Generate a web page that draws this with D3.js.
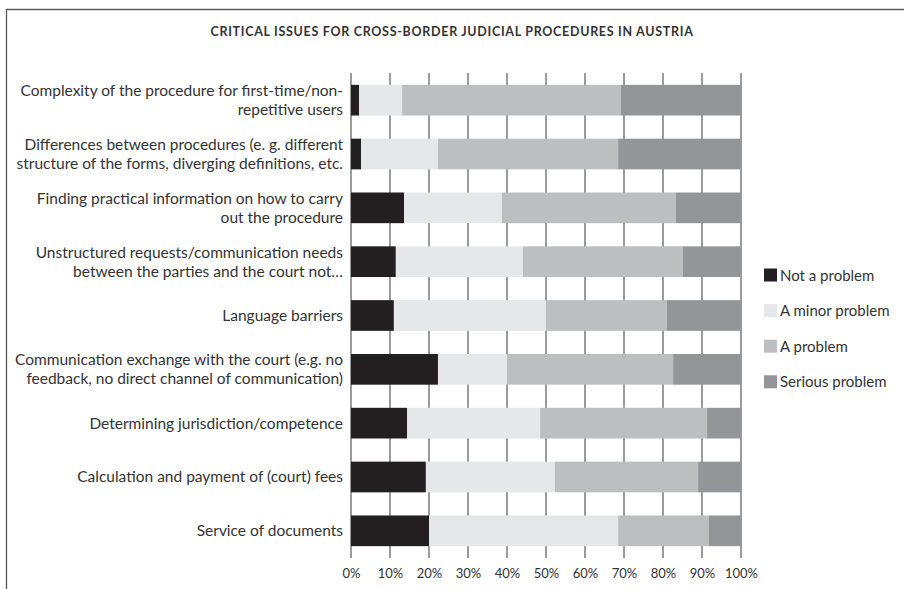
<!DOCTYPE html>
<html>
<head>
<meta charset="utf-8">
<script src="https://cdn.jsdelivr.net/npm/d3@7"></script>
<style>
  body { margin: 0; background: #fff; }
  svg { display: block; font-family: Lato, "Open Sans", sans-serif; }
</style>
</head>
<body>
<svg id="chart" width="904" height="589"></svg>
<script>
// categories (each label split into its printed lines)
const categories = [
  ["Complexity of the procedure for first-time/non-", "repetitive users"],
  ["Differences between procedures (e. g. different", "structure of the forms, diverging definitions, etc."],
  ["Finding practical information on how to carry", "out the procedure"],
  ["Unstructured requests/communication needs", "between the parties and the court not\u2026"],
  ["Language barriers"],
  ["Communication exchange with the court (e.g. no", "feedback, no direct channel of communication)"],
  ["Determining jurisdiction/competence"],
  ["Calculation and payment of (court) fees"],
  ["Service of documents"]
];
const seriesNames = ["Not a problem", "A minor problem", "A problem", "Serious problem"];
const notProblem = [2.1, 2.6, 13.6, 11.5, 11.0, 22.3, 14.4, 19.2, 20.0];
const minorProblem = [11.0, 19.7, 25.1, 32.6, 39.0, 17.7, 34.1, 33.1, 48.5];
const aProblem = [56.1, 46.2, 44.6, 41.0, 31.0, 42.6, 42.8, 36.7, 23.3];
const seriousProblem = [30.8, 31.5, 16.7, 14.9, 19.0, 17.4, 8.7, 11.0, 8.2];
const xTicks = [0, 10, 20, 30, 40, 50, 60, 70, 80, 90, 100];
const colors = ["#231f20", "#e6e7e8", "#bcbec0", "#939598"];

const title = "CRITICAL ISSUES FOR CROSS-BORDER JUDICIAL PROCEDURES IN AUSTRIA";

const svg = d3.select("#chart");

// frame
svg.append("path")
  .attr("d", "M6.5,589 V9.5 H904")
  .attr("fill", "none")
  .attr("stroke", "#58595b")
  .attr("stroke-width", 1.3);

svg.append("text")
  .attr("x", 452)
  .attr("y", 36)
  .attr("text-anchor", "middle")
  .style("font-size", "12.5px")
  .style("font-weight", 700)
  .style("letter-spacing", "0.7px")
  .style("fill", "#333")
  .text(title);

const rows = categories.map((c, i) => ({
  idx: i,
  "Not a problem": notProblem[i],
  "A minor problem": minorProblem[i],
  "A problem": aProblem[i],
  "Serious problem": seriousProblem[i]
}));

const x = d3.scaleLinear().domain([0, 100]).range([351, 741]);
const y = d3.scaleBand()
  .domain(d3.range(categories.length))
  .range([73, 558])
  .paddingInner(0.43)
  .paddingOuter(0.22);

// grid lines behind bars
svg.append("g")
  .selectAll("line")
  .data(xTicks)
  .enter().append("line")
  .attr("x1", d => x(d)).attr("x2", d => x(d))
  .attr("y1", 73).attr("y2", 558)
  .attr("stroke", "#808285")
  .attr("stroke-width", 1.6);

const stack = d3.stack().keys(seriesNames)(rows);

const layer = svg.append("g")
  .selectAll("g")
  .data(stack)
  .enter().append("g")
  .attr("fill", (d, i) => colors[i]);

layer.selectAll("rect")
  .data(d => d)
  .enter().append("rect")
  .attr("x", d => x(d[0]))
  .attr("width", d => x(d[1]) - x(d[0]))
  .attr("y", d => y(d.data.idx))
  .attr("height", y.bandwidth());

// x axis labels
const xAxis = d3.axisBottom(x)
  .tickValues(xTicks)
  .tickFormat(d => d + "%")
  .tickSize(0)
  .tickPadding(0);

const ax = svg.append("g")
  .attr("transform", "translate(0,569)")
  .call(xAxis);
ax.select(".domain").remove();
ax.selectAll("text")
  .style("font-family", "Lato, sans-serif")
  .style("font-size", "13px")
  .style("fill", "#333");

// category labels
const lab = svg.append("g")
  .selectAll("text")
  .data(categories)
  .enter().append("text")
  .attr("text-anchor", "end")
  .style("font-size", "15.5px")
  .style("fill", "#333")
  .attr("transform", (d, i) => {
    const cy = y(i) + y.bandwidth() / 2;
    const top = cy - (d.length - 1) * 19 / 2 + 5.5;
    return "translate(343," + top + ")";
  });

lab.selectAll("tspan")
  .data(d => d)
  .enter().append("tspan")
  .attr("x", 0)
  .attr("dy", (d, i) => i === 0 ? 0 : 19)
  .text(d => d);

// legend
const leg = svg.append("g")
  .selectAll("g")
  .data(seriesNames)
  .enter().append("g")
  .attr("transform", (d, i) => "translate(764," + (275 + i * 35.6) + ")");

leg.append("rect")
  .attr("x", 0).attr("y", -6.5)
  .attr("width", 13).attr("height", 13)
  .attr("fill", (d, i) => colors[i]);

leg.append("text")
  .attr("x", 16).attr("y", 5.5)
  .style("font-size", "15px")
  .style("fill", "#333")
  .text(d => d);
</script>
</body>
</html>
